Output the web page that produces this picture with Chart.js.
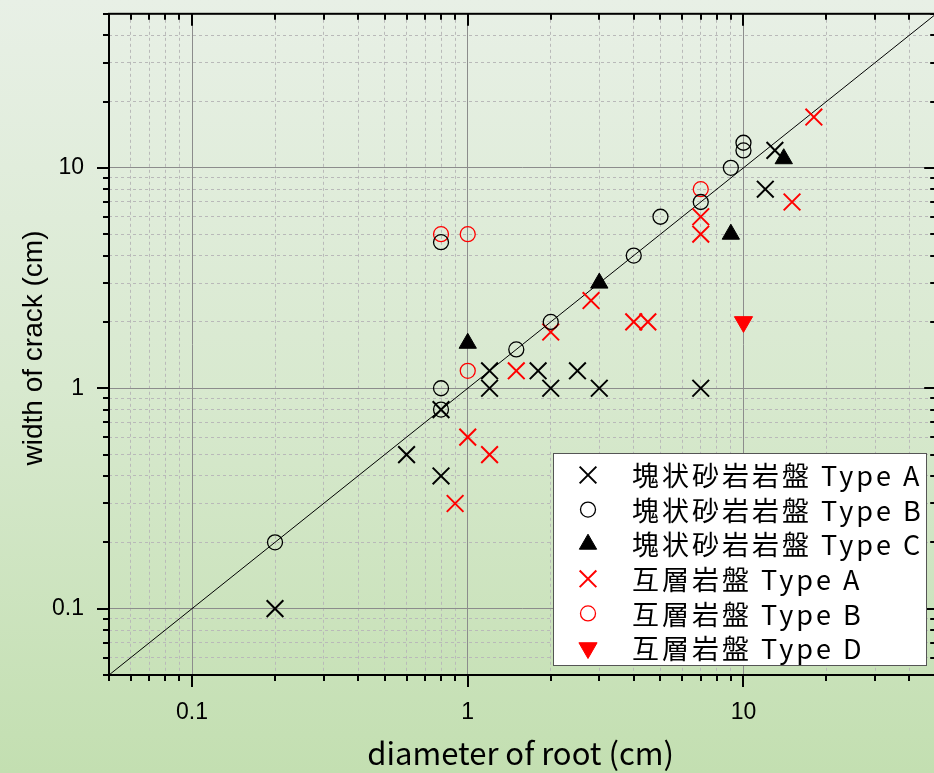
<!DOCTYPE html>
<html>
<head>
<meta charset="utf-8">
<script src="https://cdn.jsdelivr.net/npm/chart.js@4.4.1/dist/chart.umd.min.js"></script>
<style>
  html, body { margin: 0; padding: 0; overflow: hidden; }
  #wrap {
    width: 934px; height: 773px; overflow: hidden; position: relative;
    background: linear-gradient(to bottom, #e8f0e6 0%, #d8e9cf 50%, #c3dfb1 100%);
  }
  #c { position: absolute; left: 0; top: 0; }
</style>
</head>
<body>
<div id="wrap"><canvas id="c" width="950" height="773"></canvas></div>
<script>
// diameter of root (x) / width of crack (y), cm
const massiveA_x = [0.2, 0.6, 0.8, 0.8, 1.2, 1.2, 1.8, 2, 2.5, 3, 7, 12, 13];
const massiveA_y = [0.1, 0.5, 0.4, 0.8, 1.2, 1.0, 1.2, 1, 1.2, 1, 1, 8, 12];
const massiveB_x = [0.2, 0.8, 0.8, 0.8, 1.5, 2, 4, 5, 7, 9, 10, 10];
const massiveB_y = [0.2, 0.8, 1.0, 4.6, 1.5, 2, 4, 6, 7, 10, 12, 13];
const massiveC_x = [1, 3, 9, 14];
const massiveC_y = [1.6, 3, 5, 11];
const alterA_x = [0.9, 1, 1.2, 1.5, 2, 2.8, 4, 4.5, 7, 7, 15, 18];
const alterA_y = [0.3, 0.6, 0.5, 1.2, 1.8, 2.5, 2, 2, 5, 6, 7, 17];
const alterB_x = [0.8, 1, 1, 7];
const alterB_y = [5, 5, 1.2, 8];
const alterD_x = [10];
const alterD_y = [2];

// 1:1 line
const lineX = [0.05, 50];
const lineY = [0.05, 50];

const seriesLabels = [
  "塊状砂岩岩盤 Type A",
  "塊状砂岩岩盤 Type B",
  "塊状砂岩岩盤 Type C",
  "互層岩盤 Type A",
  "互層岩盤 Type B",
  "互層岩盤 Type D",
];

const xTicks = [0.05, 0.06, 0.07, 0.08, 0.09, 0.1, 0.2, 0.3, 0.4, 0.5, 0.6, 0.7, 0.8, 0.9,
  1, 2, 3, 4, 5, 6, 7, 8, 9, 10, 20, 30, 40, 50];
const yTicks = xTicks.slice();
const xTickLabels = [0.1, 1, 10];
const yTickLabels = [0.1, 1, 10];

const xTitle = "diameter of root (cm)";
const yTitle = "width of crack (cm)";

function pts(xs, ys) {
  return xs.map((x, i) => ({ x, y: ys[i] }));
}

function marker(label, xs, ys, style, color, filled, radius, width, rotation) {
  return {
    label,
    data: pts(xs, ys),
    showLine: false,
    pointStyle: style,
    pointRadius: radius,
    pointHoverRadius: radius,
    pointBorderColor: color,
    pointBackgroundColor: filled ? color : "rgba(0,0,0,0)",
    pointBorderWidth: width,
    pointRotation: rotation || 0,
    inLegend: true,
  };
}

const datasets = [
  marker(seriesLabels[0], massiveA_x, massiveA_y, "crossRot", "#000", false, 11.8, 2),
  marker(seriesLabels[1], massiveB_x, massiveB_y, "circle", "#000", false, 7.5, 1.3),
  marker(seriesLabels[2], massiveC_x, massiveC_y, "triangle", "#000", true, 10, 1),
  marker(seriesLabels[3], alterA_x, alterA_y, "crossRot", "#ff0000", false, 11.8, 2),
  marker(seriesLabels[4], alterB_x, alterB_y, "circle", "#ff0000", false, 7.5, 1.3),
  marker(seriesLabels[5], alterD_x, alterD_y, "triangle", "#ff0000", true, 10.5, 1, 180),
  {
    label: "1:1",
    data: pts(lineX, lineY),
    showLine: true,
    borderColor: "#000",
    borderWidth: 1,
    pointRadius: 0,
    inLegend: false,
  },
];

const isEdge = (v) => v === 0.05 || v === 50;

function gridOpts(labels) {
  return {
    drawTicks: false,
    color: (c) => (isEdge(c.tick.value) ? "rgba(0,0,0,0)" : labels.includes(c.tick.value) ? "#8c8c8c" : "#b9b9b9"),
    lineWidth: 1,
  };
}

function noPadding(s) {
  s.paddingTop = 0;
  s.paddingBottom = 0;
  s.paddingLeft = 0;
  s.paddingRight = 0;
}

const framePlugin = {
  id: "frame",
  afterDatasetsDraw(chart) {
    const { ctx, chartArea: a } = chart;
    const x = chart.scales.x;
    const y = chart.scales.y;
    ctx.save();
    ctx.strokeStyle = "#000";
    ctx.lineWidth = 2;
    const seg = (x1, y1, x2, y2) => {
      ctx.beginPath();
      ctx.moveTo(x1, y1);
      ctx.lineTo(x2, y2);
      ctx.stroke();
    };
    ctx.strokeRect(a.left, a.top, a.right - a.left, a.bottom - a.top);
    xTicks.forEach((v) => {
      const px = Math.round(x.getPixelForValue(v));
      const len = xTickLabels.includes(v) ? 12 : 6;
      seg(px, a.bottom, px, a.bottom + len);
      seg(px, a.top, px, a.top + len);
    });
    yTicks.forEach((v) => {
      const py = Math.round(y.getPixelForValue(v));
      const len = yTickLabels.includes(v) ? 12 : 6;
      seg(a.left - len, py, a.left, py);
      seg(a.right - len, py, a.right, py);
    });

    // axis titles
    ctx.fillStyle = "#000";
    ctx.textAlign = "center";
    ctx.textBaseline = "middle";
    ctx.font = '31px "Noto Sans CJK JP"';
    ctx.fillText(xTitle, (a.left + a.right) / 2 - 2, 753);
    ctx.translate(34, 348);
    ctx.rotate(-Math.PI / 2);
    ctx.font = '28px "Liberation Sans"';
    ctx.fillText(yTitle, 0, 0);
    ctx.restore();
  },
};

const legendPlugin = {
  id: "boxLegend",
  afterDraw(chart) {
    const { ctx } = chart;
    const left = 553, top = 453, right = 926, bottom = 665;
    ctx.save();
    ctx.fillStyle = "#fff";
    ctx.fillRect(left, top, right - left, bottom - top);
    ctx.strokeStyle = "#555";
    ctx.lineWidth = 1;
    ctx.strokeRect(left + 0.5, top + 0.5, right - left, bottom - top);
    const items = chart.data.datasets.filter((d) => d.inLegend);
    items.forEach((d, i) => {
      const my = top + 22 + i * 34.6;
      const mx = 588;
      ctx.strokeStyle = d.pointBorderColor;
      ctx.fillStyle = d.pointBackgroundColor;
      ctx.lineWidth = d.pointBorderWidth;
      Chart.helpers.drawPoint(ctx, {
        pointStyle: d.pointStyle,
        radius: d.pointRadius,
        rotation: d.pointRotation,
        borderWidth: d.pointBorderWidth,
      }, mx, my);
      ctx.fillStyle = "#000";
      ctx.font = '27px "Noto Sans CJK JP"';
      ctx.letterSpacing = "3px";
      ctx.textBaseline = "middle";
      ctx.textAlign = "left";
      ctx.fillText(d.label, 632, my + 1);
    });
    ctx.restore();
  },
};

new Chart(document.getElementById("c"), {
  type: "scatter",
  data: { datasets },
  plugins: [framePlugin, legendPlugin],
  options: {
    responsive: false,
    animation: false,
    events: [],
    layout: { padding: { top: 10, right: 12, left: 0, bottom: 0 } },
    plugins: { legend: { display: false }, tooltip: { enabled: false } },
    scales: {
      x: {
        type: "logarithmic",
        position: "bottom",
        min: 0.05,
        max: 50,
        afterBuildTicks: (s) => { s.ticks = xTicks.map((v) => ({ value: v })); },
        afterFit: (s) => { s.height = 98; noPadding(s); },
        ticks: {
          autoSkip: false,
          maxRotation: 0,
          padding: 24,
          color: "#000",
          font: { family: "Liberation Sans", size: 23 },
          callback: (v) => (xTickLabels.includes(v) ? String(v) : ""),
        },
        grid: gridOpts(xTickLabels),
        border: { display: false, dash: (c) => (xTickLabels.includes(c.tick.value) ? [] : [3, 3]) },
      },
      y: {
        type: "logarithmic",
        position: "left",
        min: 0.05,
        max: 50,
        afterBuildTicks: (s) => { s.ticks = yTicks.map((v) => ({ value: v })); },
        afterFit: (s) => { s.width = 109; noPadding(s); },
        ticks: {
          autoSkip: false,
          padding: 25,
          color: "#000",
          font: { family: "Liberation Sans", size: 23 },
          callback: (v) => (yTickLabels.includes(v) ? String(v) : ""),
        },
        grid: gridOpts(yTickLabels),
        border: { display: false, dash: (c) => (yTickLabels.includes(c.tick.value) ? [] : [3, 3]) },
      },
    },
  },
});
</script>
</body>
</html>
